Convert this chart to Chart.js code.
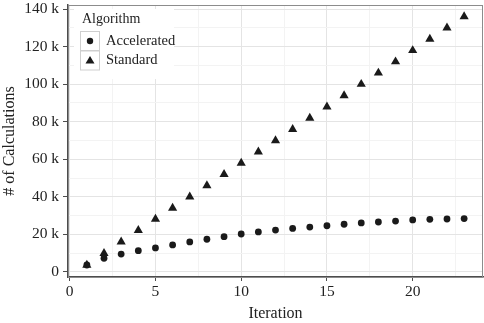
<!DOCTYPE html>
<html>
<head>
<meta charset="utf-8">
<script src="https://cdn.jsdelivr.net/npm/chart.js@4"></script>
<style>
  html, body { margin: 0; padding: 0; background: #fff; }
  #wrap { width: 484px; height: 323px; }
</style>
</head>
<body>
<div id="wrap"><canvas id="chart" width="484" height="323"></canvas></div>
<script>
  // values
  const iterations = [1, 2, 3, 4, 5, 6, 7, 8, 9, 10, 11, 12, 13, 14, 15, 16, 17, 18, 19, 20, 21, 22, 23];
  const accelerated = [3700, 7300, 9500, 11300, 12800, 14400, 16000, 17400, 18800, 20200, 21300, 22300, 23200,
    23900, 24600, 25400, 26100, 26600, 27100, 27700, 28000, 28200, 28400];
  const standard = [3700, 9900, 16000, 22200, 28200, 34000, 40000, 46000, 52000, 58000, 64000, 70000, 76000,
    82000, 88000, 94000, 100000, 106000, 112000, 118000, 124000, 130000, 136000];
  const xTicks = [0, 2.5, 5, 7.5, 10, 12.5, 15, 17.5, 20, 22.5];
  const yTicks = [0, 10000, 20000, 30000, 40000, 50000, 60000, 70000, 80000, 90000, 100000, 110000, 120000, 130000, 140000];

  const serif = '"Liberation Serif", "DejaVu Serif", serif';
  const ink = '#1a1a1a';

  const xMajor = v => v % 5 === 0;
  const yMajor = v => v % 20000 === 0;

  const noPad = s => {
    s.paddingTop = 0;
    s.paddingBottom = 0;
    s.paddingLeft = 0;
    s.paddingRight = 0;
  };

  // ggplot-like legend in the top left of the panel
  const legendInside = {
    id: 'legendInside',
    afterDatasetsDraw(chart) {
      const ctx = chart.ctx;
      const area = chart.chartArea;
      const x0 = area.left + 12;
      const y0 = area.top + 26;
      ctx.save();
      ctx.fillStyle = '#fff';
      ctx.fillRect(area.left + 6, area.top + 4, 100, 70);
      ctx.fillStyle = '#222';
      ctx.font = '14px ' + serif;
      ctx.textBaseline = 'middle';
      ctx.fillText('Algorithm', x0 + 2, area.top + 14.5);
      chart.data.datasets.forEach((ds, i) => {
        const by = y0 + i * 19.5;
        ctx.strokeStyle = '#cfcfcf';
        ctx.lineWidth = 1;
        ctx.strokeRect(x0 + 0.5, by + 0.5, 19, 19);
        const cx = x0 + 10, cy = by + 10;
        ctx.fillStyle = ink;
        ctx.beginPath();
        if (ds.pointStyle === 'triangle') {
          ctx.moveTo(cx, cy - 4.5);
          ctx.lineTo(cx + 4.5, cy + 3);
          ctx.lineTo(cx - 4.5, cy + 3);
          ctx.closePath();
        } else {
          ctx.arc(cx, cy, 3.2, 0, Math.PI * 2);
        }
        ctx.fill();
        ctx.fillStyle = '#222';
        ctx.font = '14.5px ' + serif;
        ctx.fillText(ds.label, x0 + 26, cy);
      });
      ctx.restore();
    }
  };

  // thin grey frame round the panel
  const panelFrame = {
    id: 'panelFrame',
    beforeDatasetsDraw(chart) {
      const a = chart.chartArea;
      const ctx = chart.ctx;
      ctx.save();
      ctx.strokeStyle = '#8c8c8c';
      ctx.lineWidth = 1;
      ctx.strokeRect(a.left + 0.5, a.top + 0.5, a.right - a.left - 1, a.bottom - a.top);
      ctx.restore();
    }
  };

  new Chart(document.getElementById('chart'), {
    type: 'scatter',
    data: {
      datasets: [
        {
          label: 'Accelerated',
          data: iterations.map((x, i) => ({ x: x, y: accelerated[i] })),
          pointStyle: 'circle',
          pointRadius: 3.4,
          backgroundColor: ink,
          borderColor: ink,
          borderWidth: 0
        },
        {
          label: 'Standard',
          data: iterations.map((x, i) => ({ x: x, y: standard[i] })),
          pointStyle: 'triangle',
          pointRadius: 5.3,
          backgroundColor: ink,
          borderColor: ink,
          borderWidth: 0
        }
      ]
    },
    options: {
      responsive: false,
      animation: false,
      layout: { autoPadding: false, padding: { top: 5, right: 1, left: 0, bottom: 0 } },
      plugins: {
        legend: { display: false },
        tooltip: { enabled: false }
      },
      scales: {
        x: {
          type: 'linear',
          min: -0.1,
          max: 24.1,
          afterBuildTicks: s => { s.ticks = xTicks.map(v => ({ value: v })); },
          afterFit: s => { s.height = 46; noPad(s); },
          grid: {
            color: c => xMajor(c.tick.value) ? '#e4e4e4' : '#f3f3f3',
            tickColor: c => xMajor(c.tick.value) ? '#4d4d4d' : 'rgba(0,0,0,0)',
            tickLength: 4,
            lineWidth: 1
          },
          border: { color: '#4d4d4d', width: 1.5 },
          ticks: {
            autoSkip: false,
            maxRotation: 0,
            padding: 2,
            color: '#222',
            font: { family: serif, size: 15.5 },
            callback: v => xMajor(v) ? String(v) : ''
          },
          title: {
            display: true,
            text: 'Iteration',
            color: '#222',
            font: { family: serif, size: 16 },
            padding: 0
          }
        },
        y: {
          type: 'linear',
          min: -2700,
          max: 142200,
          afterBuildTicks: s => { s.ticks = yTicks.map(v => ({ value: v })); },
          afterFit: s => { s.width = 68; noPad(s); },
          grid: {
            color: c => yMajor(c.tick.value) ? '#e4e4e4' : '#f3f3f3',
            tickColor: c => yMajor(c.tick.value) ? '#4d4d4d' : 'rgba(0,0,0,0)',
            tickLength: 5,
            lineWidth: 1
          },
          border: { color: '#4d4d4d', width: 1.5 },
          ticks: {
            autoSkip: false,
            padding: 4,
            color: '#222',
            font: { family: serif, size: 15.5 },
            callback: v => !yMajor(v) ? '' : (v === 0 ? '0' : (v / 1000) + ' k')
          },
          title: {
            display: true,
            text: '# of Calculations',
            color: '#222',
            font: { family: serif, size: 16 },
            padding: 0
          }
        }
      }
    },
    plugins: [panelFrame, legendInside]
  });
</script>
</body>
</html>
